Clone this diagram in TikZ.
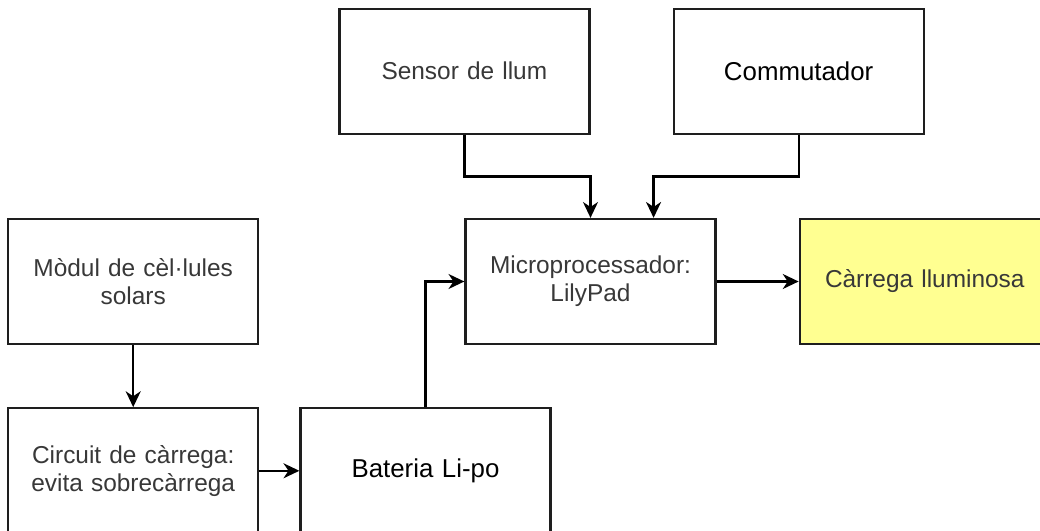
\documentclass[tikz,border=0pt]{standalone}
\usepackage{fontspec}
\setmainfont{Liberation Sans}
\usetikzlibrary{arrows.meta,positioning,calc}
\definecolor{loadyellow}{RGB}{255,255,145}
\definecolor{edgegray}{RGB}{30,30,30}

\begin{document}
\begin{tikzpicture}[
  box/.style={draw=edgegray, line width=1.3pt, align=center, minimum width=5cm, minimum height=2.5cm, text width=4.6cm, font=\fontsize{13.9}{16}\selectfont, text=black!78},
  boxdark/.style={box, text=black, font=\fontsize{14.7}{17}\selectfont},
  arr/.style={-{Stealth[length=9pt,width=8.5pt,inset=2.8pt]}, line width=1.3pt}]
\useasboundingbox (0,0) rectangle (20.8,-10.62);
\node[box] (micro) at (11.81,-5.63) {Microprocessador:\\LilyPad};
\node[box, above=1.66cm of micro.north west] (sensor) {Sensor de llum};
\node[boxdark, right=1.64cm of sensor] (commutador) {Commutador};
\node[box, right=1.64cm of micro, fill=loadyellow] (carrega) {Càrrega lluminosa};
\node[box, left=4.1cm of micro] (modul) {Mòdul de cèl·lules\\solars};
\node[box, below=1.24cm of modul] (circuit) {Circuit de càrrega:\\evita sobrecàrrega};
\node[boxdark, right=0.8cm of circuit] (bateria) {Bateria Li-po};
\draw[arr] (modul) -- (circuit); \draw[arr] (circuit) -- (bateria);
\draw[arr] (bateria.north) |- (micro.west); \draw[arr] (micro) -- (carrega);
\draw[arr] (sensor.south) -- ++(0,-0.83) -| (micro.north);
\draw[arr] (commutador.south) -- ++(0,-0.83) -| ($(micro.north)!0.5!(micro.north east)$);
\end{tikzpicture}
\end{document}
